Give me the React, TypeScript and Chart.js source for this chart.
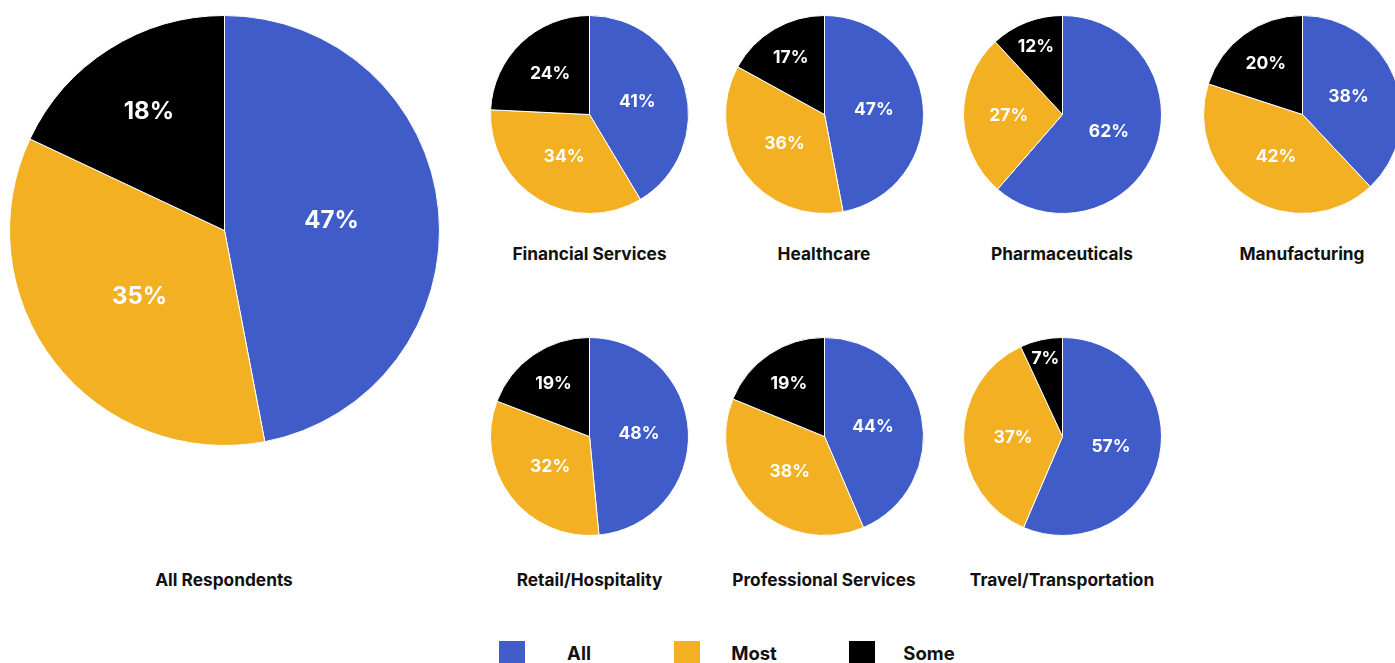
import React, { useEffect, useRef } from "react";
import { Chart, registerables } from "chart.js";

Chart.register(...registerables);

const categories = ["All", "Most", "Some"];
const groups = [
  "All Respondents",
  "Financial Services",
  "Healthcare",
  "Pharmaceuticals",
  "Manufacturing",
  "Retail/Hospitality",
  "Professional Services",
  "Travel/Transportation",
];
const allValues = [47, 41, 47, 62, 38, 48, 44, 57];
const mostValues = [35, 34, 36, 27, 42, 32, 38, 37];
const someValues = [18, 24, 17, 12, 20, 19, 19, 7];
const colors = ["#3F5CC8", "#F2B022", "#000000"];

// layout: center x, center y, radius, label font size, title y
const layout = [
  { cx: 224, cy: 230.5, r: 215, fs: 24, ty: 580 },
  { cx: 589.5, cy: 114, r: 99, fs: 17.5, ty: 254 },
  { cx: 824, cy: 114, r: 99, fs: 17.5, ty: 254 },
  { cx: 1062, cy: 114, r: 99, fs: 17.5, ty: 254 },
  { cx: 1302, cy: 114, r: 99, fs: 17.5, ty: 254 },
  { cx: 589.5, cy: 436, r: 99, fs: 17.5, ty: 580 },
  { cx: 824, cy: 436, r: 99, fs: 17.5, ty: 580 },
  { cx: 1062, cy: 436, r: 99, fs: 17.5, ty: 580 },
];

const FONT = "Inter, 'Open Sans', 'DejaVu Sans', sans-serif";

const labelPlugin = {
  id: "sliceLabels",
  afterDatasetsDraw(chart: any) {
    const ctx = chart.ctx;
    const meta = chart.getDatasetMeta(0);
    const ds = chart.data.datasets[0];
    const total = ds.data.reduce((a: number, b: number) => a + b, 0);
    const fs = chart.options.plugins.sliceLabels?.fontSize ?? 17;
    ctx.save();
    ctx.fillStyle = "#ffffff";
    ctx.font = `700 ${fs}px ${FONT}`;
    ctx.textAlign = "center";
    ctx.textBaseline = "middle";
    meta.data.forEach((arc: any, i: number) => {
      const { x, y, startAngle, endAngle, outerRadius } = arc.getProps(
        ["x", "y", "startAngle", "endAngle", "outerRadius"],
        true
      );
      const p = ds.data[i] / total;
      const f = 0.5 + (0.3 * Math.max(0, 0.3 - p)) / 0.23;
      const mid = (startAngle + endAngle) / 2;
      const lx = x + Math.cos(mid) * outerRadius * f;
      const ly = y + Math.sin(mid) * outerRadius * f;
      ctx.fillText(`${ds.data[i]}%`, lx, ly);
    });
    ctx.restore();
  },
};

function Pie({ idx }: { idx: number }) {
  const ref = useRef<HTMLCanvasElement | null>(null);
  const L = layout[idx];
  const size = Math.round(L.r * 2 + 1);
  useEffect(() => {
    if (!ref.current) return;
    const chart = new Chart(ref.current, {
      type: "pie",
      data: {
        labels: categories,
        datasets: [
          {
            data: [allValues[idx], mostValues[idx], someValues[idx]],
            backgroundColor: colors,
            borderColor: "#ffffff",
            borderWidth: 1,
          },
        ],
      },
      options: {
        responsive: false,
        animation: false,
        layout: { padding: 0 },
        plugins: {
          legend: { display: false },
          tooltip: { enabled: false },
          sliceLabels: { fontSize: L.fs },
        } as any,
      },
      plugins: [labelPlugin],
    });
    return () => chart.destroy();
  }, [idx]);
  return (
    <canvas
      ref={ref}
      width={size}
      height={size}
      style={{
        position: "absolute",
        left: L.cx - size / 2,
        top: L.cy - size / 2,
        width: size,
        height: size,
      }}
    />
  );
}

export default function App() {
  const legendX = [499, 674, 849];
  return (
    <div
      style={{
        position: "fixed",
        left: 0,
        top: 0,
        width: 1395,
        height: 663,
        overflow: "hidden",
        background: "#ffffff",
        fontFamily: FONT,
      }}
    >
      {groups.map((g, i) => (
        <React.Fragment key={g}>
          <Pie idx={i} />
          <div
            style={{
              position: "absolute",
              left: layout[i].cx - 150,
              width: 300,
              top: layout[i].ty - 11,
              height: 22,
              lineHeight: "22px",
              textAlign: "center",
              fontWeight: 700,
              fontSize: 17.3,
              color: "#111111",
              whiteSpace: "nowrap",
            }}
          >
            {g}
          </div>
        </React.Fragment>
      ))}
      {categories.map((c, i) => (
        <React.Fragment key={c}>
          <div
            style={{
              position: "absolute",
              left: legendX[i],
              top: 641,
              width: 26,
              height: 26,
              background: colors[i],
            }}
          />
          <div
            style={{
              position: "absolute",
              left: legendX[i] + 30,
              width: 100,
              top: 642,
              height: 22,
              lineHeight: "22px",
              textAlign: "center",
              fontWeight: 700,
              fontSize: 18.5,
              color: "#111111",
            }}
          >
            {c}
          </div>
        </React.Fragment>
      ))}
    </div>
  );
}
